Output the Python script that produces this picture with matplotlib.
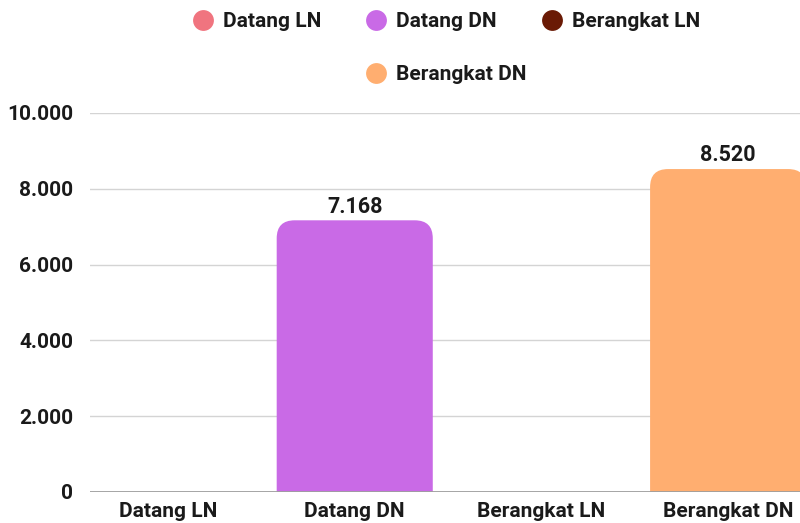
import matplotlib
matplotlib.use("Agg")
import matplotlib.pyplot as plt
from matplotlib.path import Path
from matplotlib.patches import PathPatch
from matplotlib.lines import Line2D

plt.rcParams['font.family'] = ['Roboto', 'DejaVu Sans']
plt.rcParams['font.weight'] = 'bold'

# data
categories = ['Datang LN', 'Datang DN', 'Berangkat LN', 'Berangkat DN']
values = [0, 7168, 0, 8520]
colors = ['#f0747f', '#c96ae6', '#6a1a05', '#ffae70']
yticks = [0, 2000, 4000, 6000, 8000, 10000]

text_color = '#1a1a1a'

fig = plt.figure(figsize=(8, 5.23), dpi=100)
ax = fig.add_axes([0.1125, 0.0593, 0.8875, 0.7247])

xlim = (-0.418, 3.385)
ylim = (0, 10000)
ax.set_xlim(*xlim)
ax.set_ylim(*ylim)

bar_w = 0.836
# corner radius ~18px converted to data units
ax_w_px = 0.8875 * 800
ax_h_px = 0.7247 * 523
rx = 18 / (ax_w_px / (xlim[1] - xlim[0]))
ry = 18 / (ax_h_px / (ylim[1] - ylim[0]))


def rounded_bar(x, h, w, color):
    x0, x1 = x - w / 2, x + w / 2
    r_y = min(ry, h)
    verts = [(x0, 0), (x0, h - r_y), (x0, h), (x0 + rx, h),
             (x1 - rx, h), (x1, h), (x1, h - r_y), (x1, 0), (x0, 0)]
    codes = [Path.MOVETO, Path.LINETO, Path.CURVE3, Path.CURVE3,
             Path.LINETO, Path.CURVE3, Path.CURVE3, Path.LINETO, Path.CLOSEPOLY]
    ax.add_patch(PathPatch(Path(verts, codes), facecolor=color,
                           edgecolor='none', zorder=3))


for i, (v, c) in enumerate(zip(values, colors)):
    if v > 0:
        rounded_bar(i, v, bar_w, c)
        ax.text(i, v + 70, f'{v:,}'.replace(',', '.'), ha='center', va='bottom',
                fontsize=15.5, fontweight='bold', color=text_color, zorder=4)

# grid
for t in yticks[1:]:
    ax.axhline(t, color='#d4d4d4', linewidth=1, zorder=1)
ax.axhline(0, color='#9e9e9e', linewidth=1.3, zorder=4)

ax.set_yticks(yticks)
ax.set_yticklabels([f'{t:,}'.replace(',', '.') for t in yticks])
ax.set_xticks(range(len(categories)))
ax.set_xticklabels(categories)
ax.tick_params(axis='y', length=0, pad=12, labelsize=15, labelcolor=text_color)
ax.tick_params(axis='x', length=0, pad=7, labelsize=15, labelcolor=text_color)
for s in ax.spines.values():
    s.set_visible(False)

# legend: two rows centered on the axes
handles = [Line2D([], [], marker='o', linestyle='none', markersize=15,
                  markerfacecolor=c, markeredgecolor='none') for c in colors]
leg1 = ax.legend(handles[:3], categories[:3], ncol=3, loc='center',
                 bbox_to_anchor=(0.5, 1.0 + (113 - 22) / ax_h_px),
                 frameon=False, fontsize=15, handletextpad=0.35,
                 columnspacing=2.05, handlelength=1.2)
for t in leg1.get_texts():
    t.set_color(text_color)
ax.add_artist(leg1)
leg2 = ax.legend(handles[3:], categories[3:], loc='center',
                 bbox_to_anchor=(0.5, 1.0 + (113 - 75) / ax_h_px),
                 frameon=False, fontsize=15, handletextpad=0.35,
                 handlelength=1.2)
for t in leg2.get_texts():
    t.set_color(text_color)

fig.savefig('out.png', dpi=100)
